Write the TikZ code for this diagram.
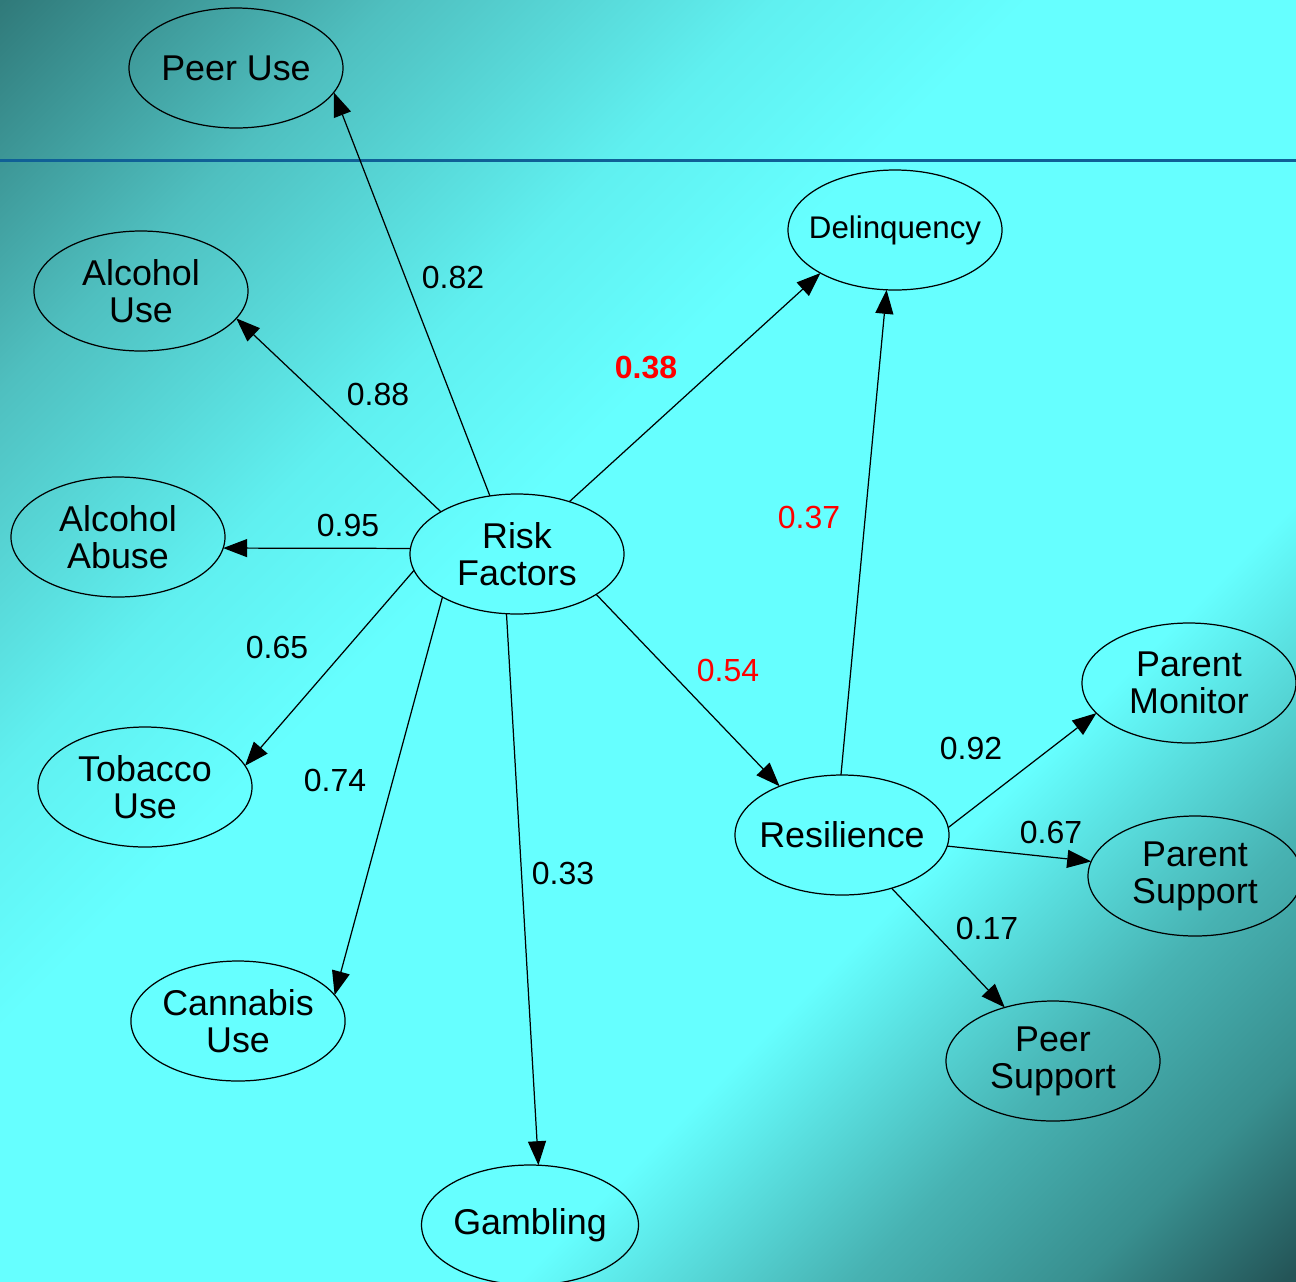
\documentclass[tikz,border=0pt]{standalone}
\usepackage{fontspec}
\setmainfont{Liberation Sans}
\usetikzlibrary{shapes.geometric,arrows.meta}

% background: dark corners, cyan middle
\pgfdeclareverticalshading{bgshade}{100bp}{%
  rgb(0bp)=(0.14,0.33,0.34); rgb(14.7bp)=(0.14,0.33,0.34);
  rgb(20.4bp)=(0.22,0.56,0.56); rgb(26.7bp)=(0.28,0.7,0.7);
  rgb(35.9bp)=(0.4,1,1); rgb(57.1bp)=(0.4,1,1);
  rgb(64.2bp)=(0.376,0.94,0.94); rgb(74.8bp)=(0.31,0.75,0.75);
  rgb(85.4bp)=(0.19,0.48,0.48); rgb(100bp)=(0.19,0.48,0.48)}
\definecolor{lineblue}{RGB}{16,96,150}

\begin{document}
\begin{tikzpicture}[
    factor/.style={ellipse, draw, line width=0.35pt, minimum width=2.14cm,
      minimum height=1.2cm, inner sep=0pt, outer sep=0pt, align=center,
      font=\fontsize{10.2}{10.6}\selectfont},
    link/.style={-{Triangle[length=0.24cm,width=0.18cm]}, line width=0.35pt},
    wt/.style={font=\fontsize{9.1}{11}\selectfont}]
        \useasboundingbox (0,0) rectangle (12.96,-12.81);
        % draw the background and the top rule
        \shade[shading=bgshade, shading angle=45] (0,0) rectangle (12.96,-12.81);
        \draw[color=lineblue, line width=0.03cm] (0,-1.60) -- (12.96,-1.60);
        % draw nodes for the factors
        \node[factor] (risk) at (5.17,-5.54) {Risk\\Factors};
        \node[factor, inner xsep=-0.08cm] (res) at (8.42,-8.35) {Resilience};
        \node[factor, inner xsep=-0.11cm, font=\fontsize{8.9}{10}\selectfont] (delq) at (8.95,-2.30) {Delinquency};
        \foreach \n/\x/\y/\t in {peer/2.36/-0.68/{Peer Use}, alcuse/1.41/-2.91/{Alcohol\\Use},
            alcab/1.18/-5.37/{Alcohol\\Abuse}, tob/1.45/-7.87/{Tobacco\\Use},
            can/2.38/-10.21/{Cannabis\\Use}, gamb/5.30/-12.25/{Gambling},
            pmon/11.89/-6.83/{Parent\\Monitor}, psup/11.95/-8.76/{Parent\\Support},
            peersup/10.53/-10.61/{Peer\\Support}}
        \node[factor] (\n) at (\x,\y) {\t};
        % draw the paths with their weights
        \foreach \s/\e/\v/\lx/\ly [count=\i] in {risk.115/peer.-14/0.82/4.53/-2.77,
            risk.151/alcuse.-16/0.88/3.78/-3.94, risk.177/alcab.-6/0.95/3.48/-5.25,
            risk.189/tob.12/0.65/2.77/-6.47, risk.210/can.15/0.74/3.35/-7.80,
            risk.260/gamb.82/0.33/5.63/-8.73, res.4/pmon.198/0.92/9.71/-7.48,
            res.-6/psup.172/0.67/10.51/-8.32, res.-47/peersup.132/0.17/9.87/-9.28}
        {
        \draw[link] (\s) -- (\e);
        \node[wt] (w\i) at (\lx,\ly) {\v};
        }
        \draw[link] (risk.45) -- (delq.210) node[wt, text=red, font=\fontsize{9.1}{11}\selectfont\bfseries] (wdelq) at (6.46,-3.68) {0.38};
        \draw[link] (risk.-27) -- (res.142) node[wt, text=red] (wres) at (7.28,-6.70) {0.54};
        \draw[link] (res.91) -- (delq.262) node[wt, text=red] (wresdelq) at (8.09,-5.17) {0.37};
\end{tikzpicture}
\end{document}
